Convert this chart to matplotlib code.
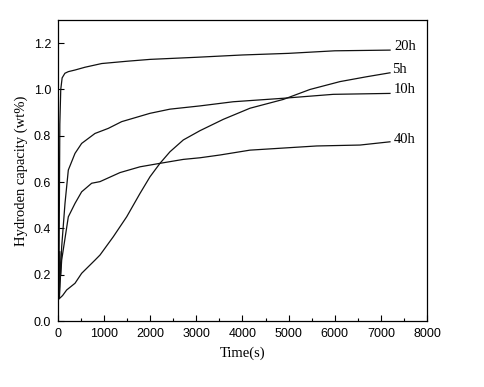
import numpy as np
import matplotlib
matplotlib.use("Agg")
import matplotlib.pyplot as plt
from matplotlib.ticker import MultipleLocator

# hydrogen absorption curves
t_20h = [0, 20, 30, 40, 60, 90, 150, 224, 369, 585, 947, 1500, 2000, 3000, 4000, 5000, 6000, 7200]
v_20h = [0.10, 0.10, 0.50, 0.85, 1.00, 1.05, 1.07, 1.077, 1.084, 1.096, 1.112, 1.122, 1.130, 1.139, 1.149, 1.156, 1.167, 1.170]

t_5h = [20, 100, 188, 369, 513, 802, 911, 1199, 1489, 1778, 1995, 2211, 2428, 2717, 3078, 3584,
        4163, 4885, 5463, 6114, 6692, 7198]
v_5h = [0.095, 0.11, 0.134, 0.163, 0.206, 0.263, 0.285, 0.364, 0.45, 0.551, 0.623, 0.681, 0.731, 0.782,
        0.822, 0.871, 0.919, 0.957, 1.0, 1.034, 1.055, 1.072]

t_10h = [30, 45, 80, 152, 224, 369, 513, 802, 1091, 1380, 1995, 2428, 3078, 3801, 4885, 5969, 7198]
v_10h = [0.10, 0.15, 0.32, 0.508, 0.652, 0.724, 0.767, 0.81, 0.832, 0.861, 0.897, 0.915, 0.929, 0.947, 0.962, 0.979, 0.983]

t_40h = [25, 40, 60, 80, 224, 369, 513, 730, 911, 1344, 1778, 2211, 2717, 3078, 3512, 4163, 5608, 6548, 7198]
v_40h = [0.10, 0.30, 0.20, 0.263, 0.45, 0.508, 0.558, 0.595, 0.602, 0.641, 0.666, 0.681, 0.698, 0.705, 0.717,
         0.738, 0.756, 0.760, 0.774]

labels = ["20h", "5h", "10h", "40h"]
label_pos = [(7300, 1.185), (7250, 1.088), (7270, 0.998), (7290, 0.782)]

fig = plt.figure(figsize=(4.84, 3.87), dpi=100)
ax = fig.add_axes([0.1198, 0.1705, 0.7624, 0.7778])

for t, v in [(t_20h, v_20h), (t_5h, v_5h), (t_10h, v_10h), (t_40h, v_40h)]:
    ax.plot(t, v, color="#111111", lw=0.9)

for lab, (x, y) in zip(labels, label_pos):
    ax.text(x, y, lab, fontsize=10.5, family="Liberation Serif", va="center", ha="left")

ax.set_xlim(0, 8000)
ax.set_ylim(0, 1.3)
ax.xaxis.set_major_locator(MultipleLocator(1000))
ax.xaxis.set_minor_locator(MultipleLocator(500))
ax.yaxis.set_major_locator(MultipleLocator(0.2))
ax.yaxis.set_major_formatter(matplotlib.ticker.FormatStrFormatter("%.1f"))
ax.tick_params(which="major", direction="in", length=4, width=0.8, labelsize=9, pad=5)
ax.tick_params(which="minor", direction="in", length=2.5, width=0.8)
ax.tick_params(axis="y", which="minor", left=False)
for lbl in ax.get_xticklabels() + ax.get_yticklabels():
    lbl.set_family("Liberation Sans")
for sp in ax.spines.values():
    sp.set_linewidth(0.9)

ax.set_xlabel("Time(s)", fontsize=10.5, family="Liberation Serif", labelpad=5)
ax.set_ylabel("Hydroden capacity (wt%)", fontsize=10.5, family="Liberation Serif", labelpad=4)

fig.savefig("out.png", dpi=100)
